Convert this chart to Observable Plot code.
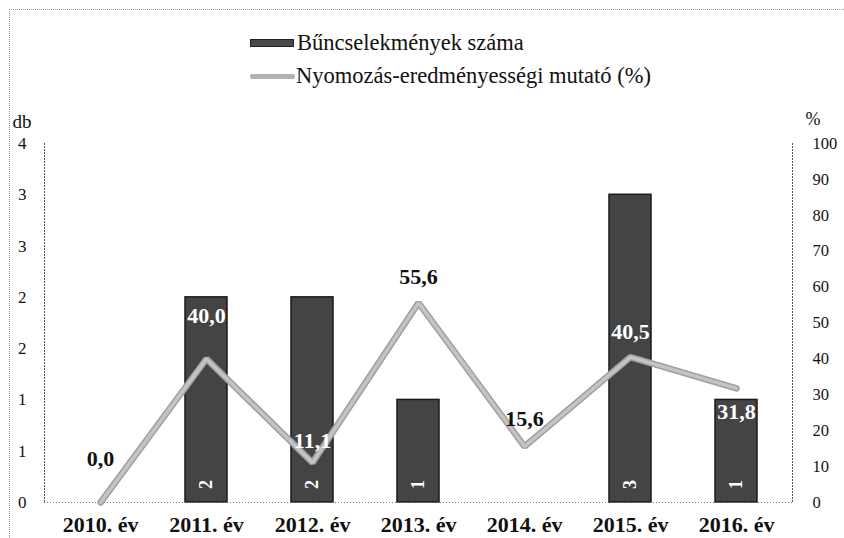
<!DOCTYPE html>
<html><head><meta charset="utf-8">
<script src="https://cdn.jsdelivr.net/npm/d3@7"></script>
<script src="https://cdn.jsdelivr.net/npm/@observablehq/plot@0.6"></script>
<style>
body{margin:0;background:#fff;}
#wrap{position:relative;width:844px;height:538px;overflow:hidden;font-family:"Liberation Serif","Times New Roman",serif;color:#111;}
#frame{position:absolute;left:9px;top:9px;width:900px;height:600px;border-left:1px dotted #999;border-top:1px dotted #999;}
#chart{position:absolute;left:0;top:0;}
.leg{position:absolute;left:250px;font-size:22.5px;line-height:26px;display:flex;align-items:center;white-space:nowrap;}
.sw1{width:44px;height:8px;background:#4a4a4a;border:1px solid #222;box-sizing:border-box;margin-right:3px;}
.sw2{width:45px;height:5px;background:#b3b3b3;border-radius:2px;margin-right:1px;}
</style></head>
<body>
<div id="wrap">
  <div id="frame"></div>
  <div id="chart"></div>
  <div class="leg" style="top:30px"><span class="sw1"></span><span id="l1"></span></div>
  <div class="leg" style="top:63px"><span class="sw2"></span><span id="l2"></span></div>
</div>
<script>
const years = ["2010. év","2011. év","2012. év","2013. év","2014. év","2015. év","2016. év"];
const crimes = [0, 2, 2, 1, 0, 3, 1];
const rates = [0.0, 40.0, 11.1, 55.6, 15.6, 40.5, 31.8];
const leftTicks = [0, 0.5, 1, 1.5, 2, 2.5, 3, 3.5];
const rightTicks = [0, 10, 20, 30, 40, 50, 60, 70, 80, 90, 100];
const seriesNames = ["Bűncselekmények száma", "Nyomozás-eredményességi mutató (%)"];
const labelDy = [-44, -43, -22, -26, -28, -25, 24];
const labelOnBar = [false, true, true, false, false, true, true];

document.getElementById("l1").textContent = seriesNames[0];
document.getElementById("l2").textContent = seriesNames[1];

const yMax = 3.5;
const k = yMax / 100;
const data = years.map((y, i) => ({year: y, crimes: crimes[i], rate: rates[i]}));
const fmt = v => v.toFixed(1).replace(".", ",");

const rateLabels = data.map((d, i) => Plot.text([d], {
  x: "year", y: d => d.rate * k, text: d => fmt(d.rate),
  dy: labelDy[i], fill: labelOnBar[i] ? "white" : "#111",
  fontWeight: "bold", fontSize: 22
}));

const plot = Plot.plot({
  width: 844, height: 538,
  marginTop: 143, marginBottom: 36, marginLeft: 44, marginRight: 52,
  style: {fontFamily: "'Liberation Serif','Times New Roman',serif", fontSize: "17px", background: "transparent", color: "#111"},
  x: {type: "band", domain: years, paddingInner: 0.6, paddingOuter: 0.3, align: 0.5},
  y: {domain: [0, yMax]},
  marks: [
    Plot.axisY({ticks: leftTicks, tickFormat: d => Math.round(d), tickSize: 0, tickPadding: 18, label: null, fontSize: 17}),
    Plot.axisY({anchor: "right", ticks: rightTicks.map(v => v * k), tickFormat: d => Math.round(d / k), tickSize: 0, tickPadding: 20, label: null, fontSize: 16.5}),
    Plot.axisX({tickSize: 0, tickPadding: 14, label: null, fontWeight: "bold", fontSize: 22}),
    Plot.text(["db"], {frameAnchor: "top-left", text: d => d, dx: -32, dy: -29, fontSize: 19}),
    Plot.text(["%"], {frameAnchor: "top-right", text: d => d, dx: 28, dy: -31, fontSize: 18}),
    Plot.frame({anchor: "left", stroke: "#555", strokeDasharray: "1,2"}),
    Plot.frame({anchor: "right", stroke: "#555", strokeDasharray: "1,2"}),
    Plot.barY(data.filter(d => d.crimes > 0), {x: "year", y: "crimes", fill: "#444", stroke: "#1a1a1a", strokeWidth: 1.5}),
    Plot.ruleY([0], {stroke: "#777", strokeDasharray: "1,2"}),
    Plot.line(data, {x: "year", y: d => d.rate * k, stroke: "#a0a0a0", strokeWidth: 6.5, strokeLinejoin: "miter"}),
    Plot.line(data, {x: "year", y: d => d.rate * k, stroke: "#c4c4c4", strokeWidth: 3.5, strokeLinejoin: "miter"}),
    Plot.text(data.filter(d => d.crimes > 0), {x: "year", y: 0, text: d => String(d.crimes), rotate: -90, dy: -18, fill: "white", fontWeight: "bold", fontSize: 18}),
    ...rateLabels
  ]
});
document.getElementById("chart").appendChild(plot);
</script>
</body></html>
